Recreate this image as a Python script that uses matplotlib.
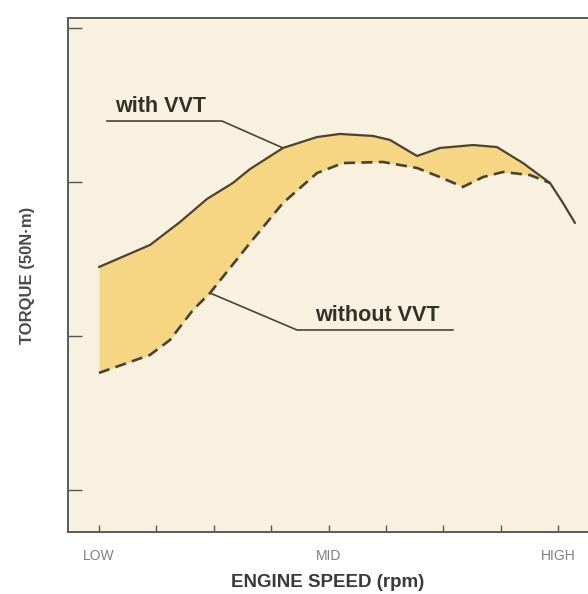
import numpy as np
import matplotlib
matplotlib.use("Agg")
import matplotlib.pyplot as plt

# engine speed in tick units (0 = LOW, 4 = MID, 8 = HIGH), torque in y-tick units
speed_with = [0.0, 0.889, 1.411, 1.882, 2.334, 2.631, 3.206, 3.798, 4.199, 4.774,
              5.07, 5.54, 5.94, 6.516, 6.934, 7.387, 7.857, 8.084, 8.293]
torque_with = [2.448, 2.591, 2.740, 2.890, 2.994, 3.084, 3.221, 3.292, 3.312, 3.299,
               3.273, 3.169, 3.221, 3.240, 3.227, 3.123, 2.994, 2.864, 2.734]
speed_without = [0.0, 0.889, 1.237, 1.638, 1.934, 2.631, 3.206, 3.798, 4.251, 4.948,
                 5.54, 5.94, 6.341, 6.69, 7.038, 7.509, 7.857]
torque_without = [1.760, 1.877, 1.974, 2.169, 2.279, 2.604, 2.864, 3.058, 3.123, 3.130,
                  3.091, 3.032, 2.968, 3.032, 3.065, 3.045, 2.994]
x_ticks = list(range(9))
x_ticklabels = ["LOW", "", "", "", "MID", "", "", "", "HIGH"]
y_ticks = [1, 2, 3, 4]

plt.rcParams["font.family"] = ["Liberation Sans", "DejaVu Sans"]

line_c = "#4a4232"
fill_c = "#f6d583"
bg_c = "#f8f1e0"

fig = plt.figure(figsize=(5.88, 5.94), dpi=100)
ax = fig.add_axes([68 / 588, 62 / 594, 1 - 68 / 588, (532 - 18) / 594])
ax.set_facecolor(bg_c)

# shaded gain between the two curves
grid = np.union1d(speed_with, speed_without)
grid = grid[grid <= speed_without[-1]]
up = np.interp(grid, speed_with, torque_with)
lo = np.interp(grid, speed_without, torque_without)
ax.fill_between(grid, lo, up, color=fill_c, lw=0, zorder=1)

ax.plot(speed_with, torque_with, color=line_c, lw=1.6, zorder=3,
        solid_capstyle="round", solid_joinstyle="round")
ax.plot(speed_without, torque_without, color=line_c, lw=1.9, zorder=3,
        dashes=(4.2, 2.4))

# leader lines + labels
ia = 6
ax.plot([0.139, 2.143, speed_with[ia]], [3.396, 3.396, torque_with[ia]],
        color=line_c, lw=1.2, zorder=2)
ax.text(0.279, 3.42, "with VVT", fontsize=15.5, fontweight="bold", color="#333028",
        ha="left", va="bottom")
ib = 4
ax.plot([speed_without[ib], 3.449, 6.167], [torque_without[ib], 2.039, 2.039],
        color=line_c, lw=1.2, zorder=2)
ax.text(3.763, 2.064, "without VVT", fontsize=15.5, fontweight="bold", color="#333028",
        ha="left", va="bottom")

ax.set_xlim(-0.54, 8.52)
ax.set_ylim(0.727, 4.065)
ax.set_xticks(x_ticks)
ax.set_xticklabels(x_ticklabels, fontsize=10, color="#808080")
ax.set_yticks(y_ticks)
ax.set_yticklabels([])
ax.tick_params(axis="x", direction="in", length=5, width=1, color="#555", pad=12)
ax.tick_params(axis="y", direction="in", length=10, width=1, color="#555")

for s in ["left", "bottom", "top"]:
    ax.spines[s].set_color("#5a5a5a")
    ax.spines[s].set_linewidth(1.4)
ax.spines["right"].set_visible(False)

ax.set_xlabel("ENGINE SPEED (rpm)", fontsize=13.5, fontweight="bold", color="#3a3a3a",
              labelpad=8)
ax.set_ylabel("TORQUE (50N\u00b7m)", fontsize=12, fontweight="bold", color="#4a4a4a",
              labelpad=20)

fig.savefig("out.png", dpi=100)
